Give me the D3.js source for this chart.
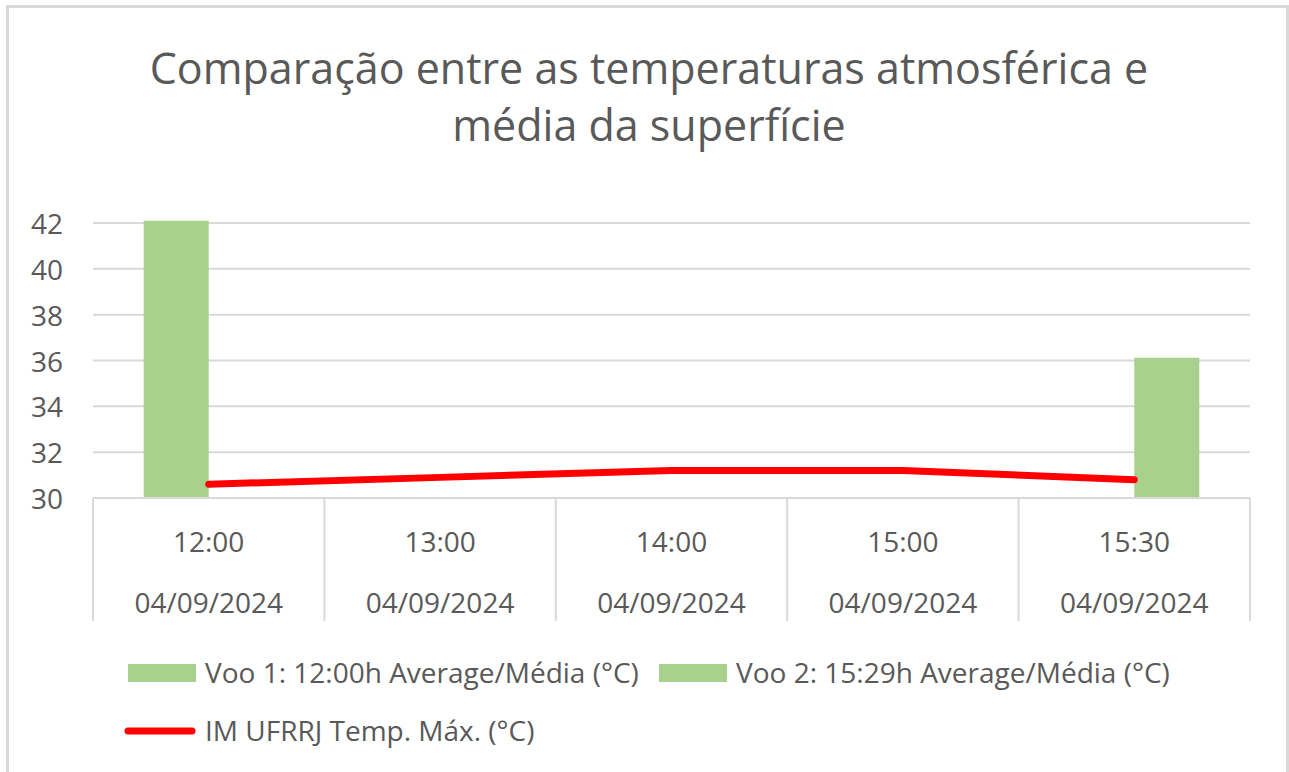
<!DOCTYPE html>
<html>
<head>
<meta charset="utf-8">
<script src="https://cdn.jsdelivr.net/npm/d3@7"></script>
<style>
  body { margin: 0; background: #fff; }
  svg text { font-family: "Open Sans", "Noto Sans", sans-serif; fill: #595959; }
</style>
</head>
<body>
<svg id="chart" width="1289" height="772"></svg>
<script>
const titleLines = ["Comparação entre as temperaturas atmosférica e", "média da superfície"];
const hours = ["12:00", "13:00", "14:00", "15:00", "15:30"];
const dates = ["04/09/2024", "04/09/2024", "04/09/2024", "04/09/2024", "04/09/2024"];
const seriesNames = ["Voo 1: 12:00h Average/Média (°C)", "Voo 2: 15:29h Average/Média (°C)"];
const voo1 = [42.1, null, null, null, null];
const voo2 = [null, null, null, null, 36.12];
const lineName = "IM UFRRJ Temp. Máx. (°C)";
const imTemp = [30.6, 30.9, 31.2, 31.2, 30.8];
const yTicks = [30, 32, 34, 36, 38, 40, 42];

const green = "#a9d18e";
const red = "#ff0000";
const grid = "#d9d9d9";

const svg = d3.select("#chart");

// outer border
svg.append("rect")
  .attr("x", 7.5).attr("y", 6.5)
  .attr("width", 1280).attr("height", 780)
  .attr("fill", "none")
  .attr("stroke", grid)
  .attr("stroke-width", 3);

// title
svg.append("text")
  .attr("x", 649)
  .attr("y", 84)
  .attr("text-anchor", "middle")
  .style("font-size", "43px")
  .selectAll("tspan")
  .data(titleLines)
  .join("tspan")
  .attr("x", 649)
  .attr("dy", (d, i) => i === 0 ? 0 : 57)
  .text(d => d);

// scales
const x = d3.scaleBand()
  .domain(hours)
  .range([93, 1250])
  .padding(0);

const inner = d3.scaleBand()
  .domain([0, 1])
  .range([0, x.bandwidth()])
  .paddingInner(0)
  .paddingOuter(0.78);

const y = d3.scaleLinear()
  .domain([30, 42])
  .range([498, 223]);

// gridlines
svg.append("g")
  .selectAll("line")
  .data(yTicks.slice(1))
  .join("line")
  .attr("x1", 93).attr("x2", 1250)
  .attr("y1", d => y(d)).attr("y2", d => y(d))
  .attr("stroke", grid)
  .attr("stroke-width", 2);

// y axis labels
const yAxis = svg.append("g")
  .attr("transform", "translate(93,0)")
  .call(d3.axisLeft(y).tickValues(yTicks).tickSize(0).tickPadding(30).tickFormat(d3.format("d")));
yAxis.select(".domain").remove();
yAxis.selectAll("text")
  .style("font-size", "28px")
  .style("font-family", "Open Sans")
  .attr("fill", "#595959")
  .attr("dy", "0.38em");

// bars
const bars = [voo1, voo2];
bars.forEach((series, si) => {
  svg.append("g")
    .selectAll("rect")
    .data(hours.map((h, i) => ({ h, v: series[i] })).filter(d => d.v != null))
    .join("rect")
    .attr("x", d => x(d.h) + inner(si))
    .attr("width", inner.bandwidth())
    .attr("y", d => y(d.v))
    .attr("height", d => y(30) - y(d.v))
    .attr("fill", green);
});

// x axis line and separators
svg.append("line")
  .attr("x1", 93).attr("x2", 1250)
  .attr("y1", y(30)).attr("y2", y(30))
  .attr("stroke", grid)
  .attr("stroke-width", 2);

const bounds = hours.map(h => x(h)).concat([x.range()[1]]);
svg.append("g")
  .selectAll("line")
  .data(bounds)
  .join("line")
  .attr("x1", d => d).attr("x2", d => d)
  .attr("y1", y(30)).attr("y2", 621)
  .attr("stroke", grid)
  .attr("stroke-width", 2);

const xLabels = svg.append("g").style("font-size", "28px").attr("text-anchor", "middle");
xLabels.selectAll("text.hour")
  .data(hours)
  .join("text")
  .attr("class", "hour")
  .attr("x", d => x(d) + x.bandwidth() / 2)
  .attr("y", 552)
  .text(d => d);
xLabels.selectAll("text.date")
  .data(dates)
  .join("text")
  .attr("class", "date")
  .attr("x", (d, i) => x(hours[i]) + x.bandwidth() / 2)
  .attr("y", 613)
  .text(d => d);

// line
const line = d3.line()
  .x((d, i) => x(hours[i]) + x.bandwidth() / 2)
  .y(d => y(d));

svg.append("path")
  .datum(imTemp)
  .attr("d", line)
  .attr("fill", "none")
  .attr("stroke", red)
  .attr("stroke-width", 7)
  .attr("stroke-linecap", "round")
  .attr("stroke-linejoin", "round");

// legend
const legend = svg.append("g").style("font-size", "28px");
const legendItems = [
  { name: seriesNames[0], x: 128, y: 673 },
  { name: seriesNames[1], x: 659, y: 673 }
];
legendItems.forEach(d => {
  legend.append("rect")
    .attr("x", d.x).attr("y", d.y - 9)
    .attr("width", 68).attr("height", 18)
    .attr("fill", green);
  legend.append("text")
    .attr("x", d.x + 77).attr("y", d.y)
    .attr("dy", "0.36em")
    .text(d.name);
});
legend.append("line")
  .attr("x1", 128).attr("x2", 192)
  .attr("y1", 731).attr("y2", 731)
  .attr("stroke", red)
  .attr("stroke-width", 7)
  .attr("stroke-linecap", "round");
legend.append("text")
  .attr("x", 205).attr("y", 731)
  .attr("dy", "0.36em")
  .text(lineName);
</script>
</body>
</html>
